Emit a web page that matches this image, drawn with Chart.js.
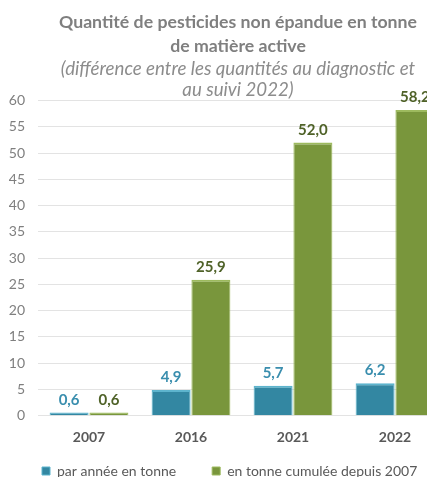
<!DOCTYPE html>
<html>
<head>
<meta charset="utf-8">
<script src="https://cdn.jsdelivr.net/npm/chart.js@4/dist/chart.umd.min.js"></script>
<style>
  html, body { margin: 0; padding: 0; background: #ffffff; overflow: hidden; }
  #box { width: 427px; height: 477px; overflow: hidden; }
</style>
</head>
<body>
<div id="box"><canvas id="chart" width="470" height="488"></canvas></div>
<script>
//-------------------
// data
//-------------------
var years = ["2007", "2016", "2021", "2022"];
var perYear = [0.6, 4.9, 5.7, 6.2];
var cumulated = [0.6, 25.9, 52.0, 58.2];
var seriesNames = ["par année en tonne", "en tonne cumulée depuis 2007"];
var yTicks = [0, 5, 10, 15, 20, 25, 30, 35, 40, 45, 50, 55, 60];

var fontFamily = "Lato, 'Open Sans', sans-serif";
var blue = "#3387a2";
var green = "#79963c";

// value labels above bars (comma decimal)
var valueLabels = {
  id: "valueLabels",
  afterDatasetsDraw: function (chart) {
    var ctx = chart.ctx;
    var colors = ["#3a8eae", "#4f6228"];
    chart.data.datasets.forEach(function (ds, i) {
      var meta = chart.getDatasetMeta(i);
      meta.data.forEach(function (bar, j) {
        ctx.save();
        ctx.font = "bold 15px " + fontFamily;
        ctx.fillStyle = colors[i];
        ctx.textAlign = "center";
        ctx.textBaseline = "bottom";
        ctx.fillText(ds.data[j].toFixed(1).replace(".", ","), bar.x, bar.y - 5);
        ctx.restore();
      });
    });
  }
};

var ctx = document.getElementById("chart").getContext("2d");
var chart = new Chart(ctx, {
  type: "bar",
  data: {
    labels: years,
    datasets: [{
      label: seriesNames[0],
      data: perYear,
      backgroundColor: blue,
      borderColor: "#5db4cd",
      borderWidth: { top: 2, left: 1, right: 1, bottom: 0 },
      categoryPercentage: 0.78,
      barPercentage: 0.98
    }, {
      label: seriesNames[1],
      data: cumulated,
      backgroundColor: green,
      borderColor: "#9dba5e",
      borderWidth: { top: 2, left: 1, right: 1, bottom: 0 },
      categoryPercentage: 0.78,
      barPercentage: 0.98
    }]
  },
  options: {
    responsive: false,
    animation: false,
    layout: { padding: { left: 6, right: 0, top: 0, bottom: 0 } },
    plugins: {
      title: {
        display: true,
        text: ["Quantité de pesticides non épandue en tonne", "de matière active"],
        color: "#7f7f7f",
        font: { family: fontFamily, size: 17.7, weight: "bold", lineHeight: 1.356 },
        padding: { top: 10.5, bottom: 0 }
      },
      subtitle: {
        display: true,
        text: ["(différence entre les quantités au diagnostic et", "au suivi 2022)"],
        color: "#8c8c8c",
        font: { family: fontFamily, size: 18.7, style: "italic", lineHeight: 1.123 },
        padding: { top: 0, bottom: 0 }
      },
      legend: {
        position: "bottom",
        align: "start",
        // empty title with negative padding pulls the items up,
        // so labels.padding only widens the gap between the two items
        title: {
          display: true,
          text: " ",
          font: { size: 10, lineHeight: 1.2 },
          padding: { top: 0, bottom: -42.5 }
        },
        labels: {
          boxWidth: 8,
          boxHeight: 8,
          padding: 36,
          color: "#595959",
          font: { family: fontFamily, size: 14 }
        }
      },
      tooltip: { enabled: false }
    },
    scales: {
      x: {
        grid: { display: false, drawTicks: false },
        border: { display: false },
        ticks: {
          color: "#595959",
          font: { family: fontFamily, size: 14, weight: "bold" },
          padding: 13
        }
      },
      y: {
        min: 0,
        max: 60,
        afterBuildTicks: function (axis) {
          axis.ticks = yTicks.map(function (v) { return { value: v }; });
        },
        afterFit: function (axis) { axis.width = 32; },
        grid: { color: "#e3e3e3", drawTicks: false },
        border: { display: false },
        ticks: {
          autoSkip: false,
          color: "#7f7f7f",
          font: { family: fontFamily, size: 14 },
          padding: 13
        }
      },
      yRight: {
        position: "right",
        display: true,
        min: 0,
        max: 60,
        grid: { display: false },
        border: { display: false },
        ticks: { display: false },
        afterFit: function (axis) { axis.width = 24; }
      }
    }
  },
  plugins: [valueLabels]
});
</script>
</body>
</html>
